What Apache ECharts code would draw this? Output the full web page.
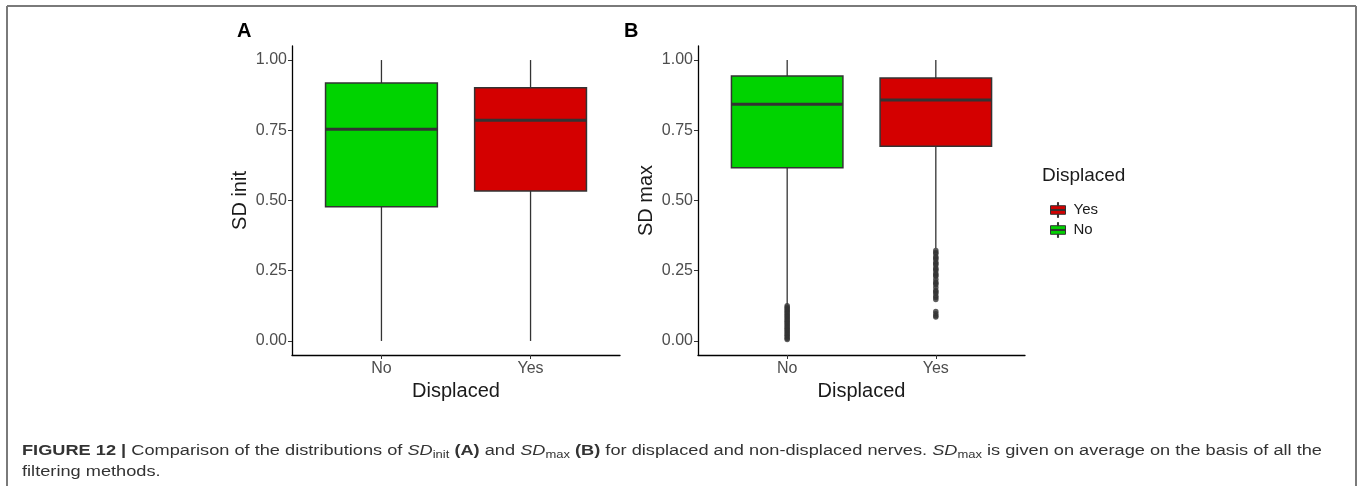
<!DOCTYPE html>
<html>
<head>
<meta charset="utf-8">
<script src="https://cdn.jsdelivr.net/npm/echarts@6/dist/echarts.min.js"></script>
<style>
html,body{margin:0;padding:0;background:#fff;}
#chart{width:1358px;height:486px;}
</style>
</head>
<body>
<div id="chart"></div>
<script>
// ---------------- data ----------------
const categories = ['No', 'Yes'];
const yTicks = [0, 0.25, 0.5, 0.75, 1];
// box stats: [lower whisker, Q1, median, Q3, upper whisker]
const sdInitNo  = [0.0, 0.478, 0.754, 0.918, 1.0];
const sdInitYes = [0.0, 0.534, 0.786, 0.901, 1.0];
const sdMaxNo   = [0.13, 0.617, 0.843, 0.943, 1.0];
const sdMaxYes  = [0.33, 0.693, 0.858, 0.936, 1.0];
// outliers
const sdMaxNoOutliers  = [0.125, 0.12, 0.115, 0.11, 0.105, 0.10, 0.095, 0.09, 0.085, 0.08, 0.075, 0.07, 0.065, 0.06, 0.055, 0.05, 0.045, 0.04, 0.035, 0.03, 0.025, 0.02, 0.015, 0.01, 0.005];
const sdMaxYesOutliers = [0.322, 0.315, 0.31, 0.30, 0.295, 0.29, 0.28, 0.275, 0.27, 0.26, 0.255, 0.25, 0.24, 0.235, 0.23, 0.22, 0.21, 0.205, 0.20, 0.19, 0.18, 0.175, 0.17, 0.16, 0.155, 0.148, 0.105, 0.097, 0.09, 0.085];
const yTitles = ['SD init', 'SD max'];
const xTitle = 'Displaced';
const panelLabels = ['A', 'B'];
const legendTitle = 'Displaced';
const captionLine1 = '{b|FIGURE 12 |} Comparison of the distributions of {i|SD}{sub|init} {b|(A)} and {i|SD}{sub|max} {b|(B)} for displaced and non-displaced nerves. {i|SD}{sub|max} is given on average on the basis of all the';
const captionLine2 = 'filtering methods.';

// ---------------- style ----------------
const GREEN = '#00d300';
const RED = '#d40000';
const DARK = '#333333';
const FONT = 'Liberation Sans, Arial, Helvetica, sans-serif';
const BOX_HALF = 0.375;

function renderBox(params, api) {
  const x = api.value(0);
  const lo = api.value(1), q1 = api.value(2), med = api.value(3), q3 = api.value(4), hi = api.value(5);
  const pHi = api.coord([x, hi]), pQ3 = api.coord([x, q3]), pQ1 = api.coord([x, q1]), pLo = api.coord([x, lo]);
  const tl = api.coord([x - BOX_HALF, q3]), br = api.coord([x + BOX_HALF, q1]);
  const ml = api.coord([x - BOX_HALF, med]), mr = api.coord([x + BOX_HALF, med]);
  const ws = {stroke: DARK, lineWidth: 1.3};
  return {
    type: 'group',
    children: [
      {type: 'line', shape: {x1: pHi[0], y1: pHi[1], x2: pQ3[0], y2: pQ3[1]}, style: ws},
      {type: 'line', shape: {x1: pQ1[0], y1: pQ1[1], x2: pLo[0], y2: pLo[1]}, style: ws},
      {type: 'rect', shape: {x: tl[0], y: tl[1], width: br[0] - tl[0], height: br[1] - tl[1]},
        style: {fill: api.visual('color'), stroke: DARK, lineWidth: 1.5}},
      {type: 'line', shape: {x1: ml[0], y1: ml[1], x2: mr[0], y2: mr[1]}, style: {stroke: DARK, lineWidth: 3}}
    ]
  };
}

const grids = [
  {left: 292, top: 46, width: 328, height: 309},
  {left: 698, top: 46, width: 327, height: 309}
];

function makeX(i) {
  return {
    type: 'value', gridIndex: i, min: 0.4, max: 2.6,
    name: xTitle, nameLocation: 'middle', nameGap: 25,
    nameTextStyle: {fontFamily: FONT, fontSize: 20, color: '#1a1a1a'},
    axisLine: {show: true, onZero: false, lineStyle: {color: '#000', width: 1.3}},
    axisTick: {show: true, length: 4, lineStyle: {color: '#333'}, customValues: [1, 2]},
    axisLabel: {customValues: [1, 2], margin: 6, fontFamily: FONT, fontSize: 16, color: '#4d4d4d',
      formatter: v => categories[Math.round(v) - 1]},
    splitLine: {show: false}
  };
}
function makeY(i) {
  return {
    type: 'value', gridIndex: i, min: -0.05, max: 1.05,
    name: yTitles[i], nameLocation: 'middle', nameGap: 42, nameRotate: 90,
    nameTextStyle: {fontFamily: FONT, fontSize: 20, color: '#1a1a1a'},
    axisLine: {show: true, onZero: false, lineStyle: {color: '#000', width: 1.3}},
    axisTick: {show: true, length: 4, lineStyle: {color: '#333'}, customValues: yTicks},
    axisLabel: {customValues: yTicks, margin: 5, fontFamily: FONT, fontSize: 16, color: '#4d4d4d',
      formatter: v => v.toFixed(2)},
    splitLine: {show: false}
  };
}

function boxSeries(name, color, gi, x, stats) {
  return {
    type: 'custom', name: name, xAxisIndex: gi, yAxisIndex: gi,
    itemStyle: {color: color},
    renderItem: renderBox,
    encode: {x: 0, y: [1, 2, 3, 4, 5]},
    data: [[x].concat(stats)],
    silent: true
  };
}
function outlierSeries(name, gi, x, vals) {
  return {
    type: 'scatter', name: name + '-out', xAxisIndex: gi, yAxisIndex: gi,
    symbolSize: 5.5, itemStyle: {color: DARK},
    data: vals.map(v => [x, v]), silent: true
  };
}

const legendIcon = 'path://M6.5,0H7.5V3H6.5Z M0,3H14V11H0Z M6.5,11H7.5V14H6.5Z M0,6.5H14V7.5H0Z';

const option = {
  animation: false,
  backgroundColor: '#fff',
  textStyle: {fontFamily: FONT},
  grid: grids,
  xAxis: [makeX(0), makeX(1)],
  yAxis: [makeY(0), makeY(1)],
  legend: {
    orient: 'vertical', left: 1045, top: 197, itemWidth: 15, itemHeight: 15, itemGap: 4,
    data: [
      {name: 'Yes', icon: legendIcon, itemStyle: {color: RED, borderColor: DARK, borderWidth: 1}},
      {name: 'No', icon: legendIcon, itemStyle: {color: GREEN, borderColor: DARK, borderWidth: 1}}
    ],
    textStyle: {fontFamily: FONT, fontSize: 15, color: '#1a1a1a', padding: [0, 0, 0, 3]},
    selectedMode: false
  },
  graphic: [
    {type: 'line', shape: {x1: 7, y1: 6, x2: 1356, y2: 6}, style: {stroke: '#7a7a7a', lineWidth: 2}},
    {type: 'line', shape: {x1: 7, y1: 6, x2: 7, y2: 486}, style: {stroke: '#7a7a7a', lineWidth: 2}},
    {type: 'line', shape: {x1: 1356, y1: 6, x2: 1356, y2: 486}, style: {stroke: '#7a7a7a', lineWidth: 2}},
    {type: 'text', left: 237, top: 21, style: {text: panelLabels[0], font: 'bold 20px ' + FONT, fill: '#000'}},
    {type: 'text', left: 624, top: 21, style: {text: panelLabels[1], font: 'bold 20px ' + FONT, fill: '#000'}},
    {type: 'text', left: 1042, top: 166, style: {text: legendTitle, font: '19px ' + FONT, fill: '#1a1a1a'}},
    {type: 'text', x: 22, y: 441, scaleX: 1.3, style: {
      text: captionLine1 + '\n' + captionLine2,
      fontFamily: FONT, fontSize: 14, fill: '#333', lineHeight: 21,
      rich: {
        b: {fontWeight: 'bold', fontSize: 14, fontFamily: FONT, fill: '#333', lineHeight: 21},
        i: {fontStyle: 'italic', fontSize: 14, fontFamily: FONT, fill: '#333', lineHeight: 21},
        sub: {fontSize: 10, fontFamily: FONT, fill: '#333', lineHeight: 21, padding: [7, 0, 0, 0]}
      }
    }}
  ],
  series: [
    boxSeries('No', GREEN, 0, 1, sdInitNo),
    boxSeries('Yes', RED, 0, 2, sdInitYes),
    boxSeries('No', GREEN, 1, 1, sdMaxNo),
    boxSeries('Yes', RED, 1, 2, sdMaxYes),
    outlierSeries('No', 1, 1, sdMaxNoOutliers),
    outlierSeries('Yes', 1, 2, sdMaxYesOutliers)
  ]
};

const chart = echarts.init(document.getElementById('chart'), null, {renderer: 'canvas'});
chart.setOption(option);
</script>
</body>
</html>
